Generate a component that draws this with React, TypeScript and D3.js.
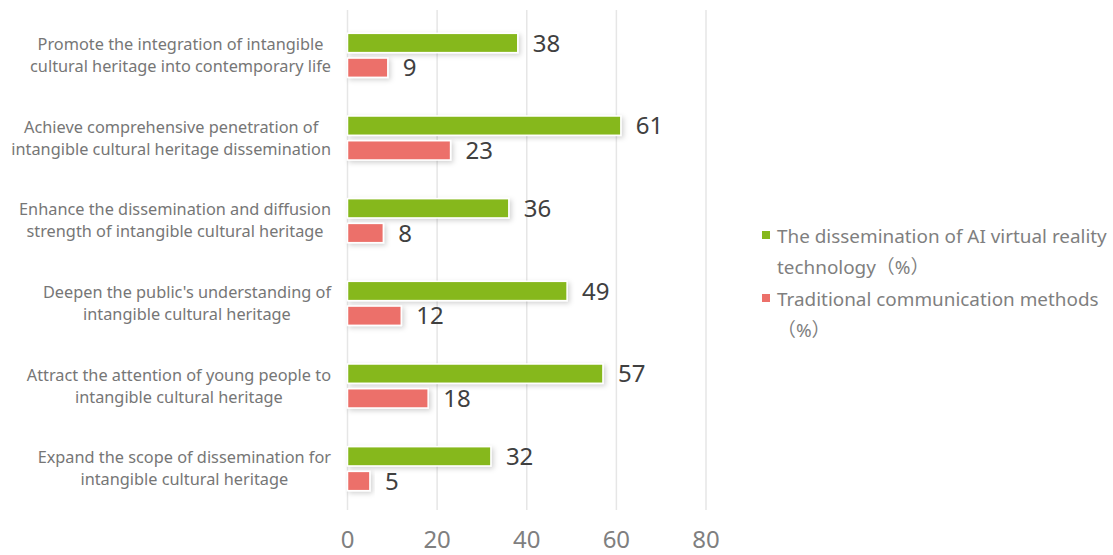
import React from "react";
import * as d3 from "d3";

const categories = [
  ["Promote the integration of intangible", "cultural heritage into contemporary life"],
  ["Achieve comprehensive penetration of", "intangible cultural heritage dissemination"],
  ["Enhance the dissemination and diffusion", "strength of intangible cultural heritage"],
  ["Deepen the public's understanding of", "intangible cultural heritage"],
  ["Attract the attention of young people to", "intangible cultural heritage"],
  ["Expand the scope of dissemination for", "intangible cultural heritage"],
];
const aiValues = [38, 61, 36, 49, 57, 32];
const traditionalValues = [9, 23, 8, 12, 18, 5];
const seriesNames = ["ai", "trad"];
const legendLines = [
  ["The dissemination of AI virtual reality", "technology（%）"],
  ["Traditional communication methods", "（%）"],
];
const xTicks = [0, 20, 40, 60, 80];

const GREEN = "#86B81B";
const RED = "#EC706A";
const FONT = "'Noto Sans', 'Noto Sans CJK SC', sans-serif";

let ctx: CanvasRenderingContext2D | null = null;
function measure(t: string, size: number) {
  if (!ctx) ctx = document.createElement("canvas").getContext("2d");
  ctx!.font = `${size}px 'Noto Sans'`;
  return ctx!.measureText(t).width;
}
function fit(t: string, target: number) {
  return (20 * target) / measure(t, 20);
}

export default function App() {
  const W = 1113, H = 555;
  const x = d3.scaleLinear().domain([0, 80]).range([347.5, 706]);
  const keys = categories.map((_, i) => String(i));
  const y = d3.scaleBand().domain(keys).range([14, 510]).padding(0);
  const groupH = 44;
  const inner = d3.scaleBand().domain(seriesNames).range([0, groupH]).paddingInner(0.22);
  const catFs = Math.min(17, fit(categories[0][0], 286));
  const legFs = Math.min(21, fit(legendLines[0][0], 330));
  const labelRight = 331;

  return (
    <svg width={W} height={H} style={{ position: "absolute", left: 0, top: 0, background: "#fff" }}>
      <defs>
        <filter id="sh" x="-10%" y="-50%" width="130%" height="220%">
          <feDropShadow dx="2" dy="2" stdDeviation="2.5" floodColor="#000" floodOpacity="0.18" />
        </filter>
      </defs>
      {xTicks.map((t) => (
        <line key={t} x1={x(t)} x2={x(t)} y1={10} y2={510} stroke="#e6e6e6" strokeWidth={1.5} />
      ))}
      {xTicks.map((t) => (
        <text key={"t" + t} x={x(t)} y={548} textAnchor="middle" fontSize={24} fill="#7f7f7f" fontFamily={FONT}>
          {t}
        </text>
      ))}
      {categories.map((lines, i) => {
        const by = y(String(i))!;
        const cy = by + y.bandwidth() / 2;
        const g0 = cy - groupH / 2;
        const maxW = Math.max(...lines.map((l) => measure(l, catFs)));
        const cx = labelRight - maxW / 2;
        const vals = [aiValues[i], traditionalValues[i]];
        return (
          <g key={i}>
            {lines.map((l, j) => (
              <text key={j} x={cx} y={cy - 11 + j * 22} dy="0.35em" textAnchor="middle" fontSize={catFs} fill="#767676" fontFamily={FONT}>
                {l}
              </text>
            ))}
            {seriesNames.map((s, k) => {
              const yy = g0 + inner(s)!;
              const h = inner.bandwidth();
              return (
                <g key={s}>
                  <rect x={x(0)} y={yy} width={x(vals[k]) - x(0)} height={h} fill={k === 0 ? GREEN : RED} stroke="#fff" strokeWidth={1.5} filter="url(#sh)" />
                  <text x={x(vals[k]) + 15} y={yy + h / 2} dy="0.36em" fontSize={24} fill="#404040" fontFamily={FONT}>
                    {vals[k]}
                  </text>
                </g>
              );
            })}
          </g>
        );
      })}
      {legendLines.map((lines, k) => (
        <g key={k}>
          <rect x={762} y={231 + k * 63} width={8} height={8} fill={k === 0 ? GREEN : RED} />
          {lines.map((l, j) => (
            <text key={j} x={777} y={243 + k * 63 + j * 31} fontSize={legFs} fill="#7f7f7f" fontFamily={FONT}>
              {l}
            </text>
          ))}
        </g>
      ))}
    </svg>
  );
}
